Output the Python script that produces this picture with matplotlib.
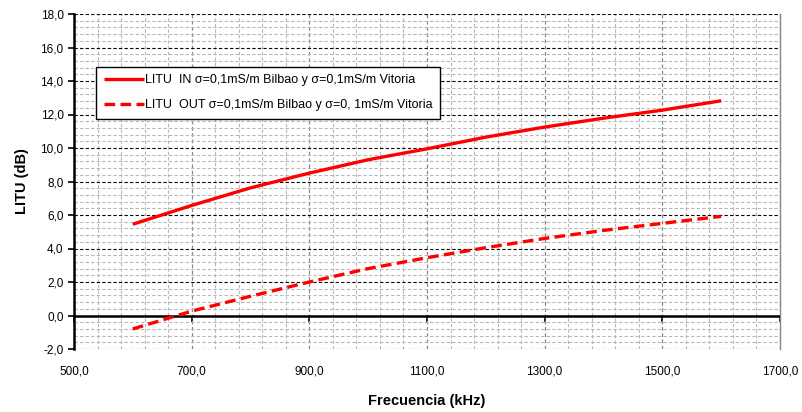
import numpy as np
import matplotlib
matplotlib.use("Agg")
import matplotlib.pyplot as plt
from matplotlib.ticker import MultipleLocator, FixedLocator, FuncFormatter

plt.rcParams['font.family'] = ['Liberation Sans', 'DejaVu Sans']

# ==============================================================================
# DADOS
# ==============================================================================
frecuencia = [600, 700, 800, 900, 1000, 1100, 1200, 1300, 1400, 1500, 1600]
litu_in = [5.45, 6.57, 7.62, 8.50, 9.30, 9.95, 10.65, 11.25, 11.78, 12.26, 12.82]
litu_out = [-0.80, 0.26, 1.15, 2.00, 2.80, 3.45, 4.05, 4.60, 5.08, 5.50, 5.92]

x_ticks = [500, 700, 900, 1100, 1300, 1500, 1700]

label_in = "LITU  IN σ=0,1mS/m Bilbao y σ=0,1mS/m Vitoria"
label_out = "LITU  OUT σ=0,1mS/m Bilbao y σ=0, 1mS/m Vitoria"

fig = plt.figure(figsize=(8.02, 4.12), dpi=100)
ax = fig.add_axes([74 / 802, 1 - 349 / 412, (780 - 74) / 802, (349 - 14) / 412])

ax.plot(frecuencia, litu_in, color='#ff0000', lw=2.4, solid_capstyle='butt', label=label_in, zorder=5)
ax.plot(frecuencia, litu_out, color='#ff0000', lw=2.4, ls=(0, (3.2, 1.6)), label=label_out, zorder=5)

ax.set_xlim(500, 1700)
ax.set_ylim(-2, 18)
ax.xaxis.set_major_locator(FixedLocator(x_ticks))
ax.xaxis.set_minor_locator(MultipleLocator(40, offset=20))
ax.yaxis.set_major_locator(MultipleLocator(2))
ax.yaxis.set_minor_locator(MultipleLocator(0.4))

fmt = FuncFormatter(lambda v, p: f"{v:.1f}".replace('.', ','))
ax.xaxis.set_major_formatter(fmt)
ax.yaxis.set_major_formatter(fmt)

# grades
ax.grid(which='minor', axis='both', color='#b8b8b8', ls=(0, (3, 2)), lw=0.8)
ax.grid(which='major', axis='y', color='black', ls=(0, (3, 2)), lw=0.8)
ax.grid(which='major', axis='x', color='#888888', ls=(0, (3, 2)), lw=0.9)
ax.set_axisbelow(True)

# eixo x cruzando em 0
ax.axhline(0, color='black', lw=1.8, zorder=3)
sec = ax.secondary_xaxis(0.1)
sec.xaxis.set_major_locator(FixedLocator(x_ticks))
sec.tick_params(axis='x', direction='out', length=4, width=1.2, labelbottom=False, color='black')
sec.spines['bottom'].set_visible(False)

for s in ['top', 'bottom']:
    ax.spines[s].set_visible(False)
ax.spines['left'].set_color('black')
ax.spines['left'].set_linewidth(1.8)
ax.spines['right'].set_color('#888888')
ax.spines['right'].set_linewidth(1.0)

ax.tick_params(axis='x', which='major', length=0, pad=12, labelsize=8.5)
ax.tick_params(axis='x', which='minor', length=0)
ax.tick_params(axis='y', which='major', direction='out', length=4, width=1.2, labelsize=8.5)
ax.tick_params(axis='y', which='minor', length=0)

ax.set_xlabel('Frecuencia (kHz)', fontsize=10.5, fontweight='bold', labelpad=12)
ax.set_ylabel('LITU (dB)', fontsize=10.5, fontweight='bold', labelpad=8)

leg = ax.legend(loc='upper left', bbox_to_anchor=((96 - 74) / 706, 1 - (67 - 14) / 335),
                fontsize=9, frameon=True, fancybox=False, edgecolor='black',
                framealpha=1, handlelength=3.2, handletextpad=0.1, labelspacing=1.0,
                borderpad=0.6, borderaxespad=0)
leg.get_frame().set_linewidth(1.0)

fig.savefig('out.png', dpi=100)
